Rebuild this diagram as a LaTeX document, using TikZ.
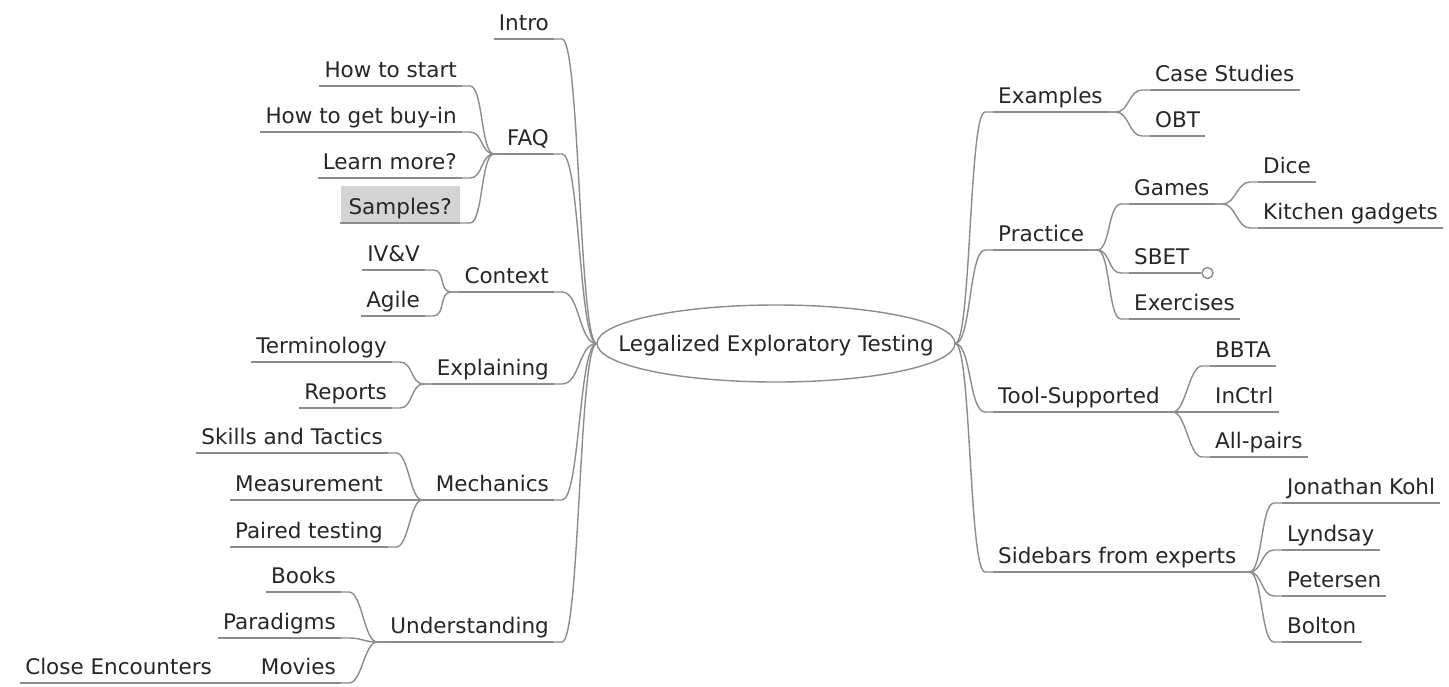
\documentclass[tikz,border=0pt]{standalone}
\usepackage{fontspec}
\setmainfont{DejaVu Sans}

\begin{document}
\begin{tikzpicture}[x=1pt,y=-1pt,font=\fontsize{21.5pt}{26pt}\selectfont]
  \tikzstyle{topic}=[inner xsep=5pt, inner ysep=4.5pt, text height=16pt, text depth=4pt, text=black!85]
  \tikzstyle{lft}=[topic, anchor=south east]
  \tikzstyle{rgt}=[topic, anchor=south west]
  \tikzstyle{hl}=[fill=black!17, text height=23.5pt, inner xsep=8pt]
  \tikzstyle{lnk}=[draw=black!45, line width=1.4pt]
  \tikzstyle{foldc}=[circle, draw=black!45, line width=1.4pt, fill=white, minimum size=11pt, inner sep=0pt]

  \useasboundingbox (0,0) rectangle (1449,686);

  % central topic
  \node[inner sep=0pt, minimum width=358pt, minimum height=77pt, text height=16pt, text depth=0pt, text=black!85] (root) at (776,343.5) {Legalized Exploratory Testing};
  \draw[lnk] (root.center) ellipse [x radius=179pt, y radius=38.5pt];

  % left branches
  \node[lft] (intro) at (554,39) {Intro};
  \node[lft] (faq) at (554,154) {FAQ};
  \node[lft] (howstart) at (462,86) {How to start};
  \node[lft] (buyin) at (462,132) {How to get buy-in};
  \node[lft] (learnmore) at (462,178) {Learn more?};
  \node[lft,hl] (samples) at (460,223) {Samples?};
  \node[lft] (context) at (554,292) {Context};
  \node[lft] (ivv) at (425,270) {IV\&V};
  \node[lft] (agile) at (425,316) {Agile};
  \node[lft] (explaining) at (554,384) {Explaining};
  \node[lft] (terminology) at (392,362) {Terminology};
  \node[lft] (reports) at (392,408) {Reports};
  \node[lft] (mechanics) at (554,500) {Mechanics};
  \node[lft] (skills) at (388,453) {Skills and Tactics};
  \node[lft] (measurement) at (388,500) {Measurement};
  \node[lft] (paired) at (388,547) {Paired testing};
  \node[lft] (understanding) at (554,642) {Understanding};
  \node[lft] (books) at (341,592) {Books};
  \node[lft] (paradigms) at (341,638) {Paradigms};
  \node[lft] (movies) at (341,683) {Movies};
  \node[lft] (closeenc) at (217,683) {Close Encounters};

  % right branches
  \node[rgt] (examples) at (993,112) {Examples};
  \node[rgt] (casestudies) at (1150,90) {Case Studies};
  \node[rgt] (obt) at (1150,136) {OBT};
  \node[rgt] (practice) at (993,250) {Practice};
  \node[rgt] (games) at (1129,204) {Games};
  \node[rgt] (dice) at (1258,182) {Dice};
  \node[rgt] (kitchen) at (1258,228) {Kitchen gadgets};
  \node[rgt] (sbet) at (1129,273) {SBET};
  \node[rgt] (exercises) at (1129,319) {Exercises};
  \node[rgt] (tool) at (993,412) {Tool-Supported};
  \node[rgt] (bbta) at (1210,366) {BBTA};
  \node[rgt] (inctrl) at (1210,412) {InCtrl};
  \node[rgt] (allpairs) at (1210,457) {All-pairs};
  \node[rgt] (sidebars) at (993,572) {Sidebars from experts};
  \node[rgt] (kohl) at (1282,503) {Jonathan Kohl};
  \node[rgt] (lyndsay) at (1282,550) {Lyndsay};
  \node[rgt] (petersen) at (1282,596) {Petersen};
  \node[rgt] (bolton) at (1282,642) {Bolton};
  \node[foldc] (sbetfold) at ([xshift=13pt]sbet.south east) {};

  % underlines
  \foreach \n in {intro,faq,howstart,buyin,learnmore,samples,context,ivv,agile,explaining,terminology,reports,mechanics,skills,measurement,paired,understanding,books,paradigms,movies,closeenc,examples,casestudies,obt,practice,games,dice,kitchen,sbet,exercises,tool,bbta,inctrl,allpairs,sidebars,kohl,lyndsay,petersen,bolton}
    \draw[lnk] (\n.south west) -- (\n.south east);

  % links
  \foreach \to in {intro,faq,context,explaining,mechanics,understanding}
    \draw[lnk] (root.west) .. controls +(-18pt,0) and +(18pt,0) .. ([xshift=8pt]\to.south east) -- (\to.south east);
  \foreach \to in {examples,practice,tool,sidebars}
    \draw[lnk] (root.east) .. controls +(16pt,0) and +(-16pt,0) .. ([xshift=-8pt]\to.south west) -- (\to.south west);
  \foreach \from/\to in {faq/howstart,faq/buyin,faq/learnmore,context/ivv,context/agile,explaining/terminology,explaining/reports,mechanics/skills,mechanics/measurement,mechanics/paired,understanding/books,understanding/paradigms,understanding/movies,movies/closeenc}
    \draw[lnk] (\from.south west) -- ++(-8pt,0) .. controls +(-13pt,0) and +(13pt,0) .. ([xshift=8pt]\to.south east) -- (\to.south east);
  \draw[lnk] (faq.south west) -- ++(-8pt,0) .. controls +(-13pt,0) and +(13pt,0) .. ([xshift=10pt]samples.south east) -- (samples.south east);
  \foreach \from/\to in {examples/casestudies,examples/obt,practice/games,practice/sbet,practice/exercises,games/dice,games/kitchen,tool/bbta,tool/inctrl,tool/allpairs,sidebars/kohl,sidebars/lyndsay,sidebars/petersen,sidebars/bolton}
    \draw[lnk] (\from.south east) -- ++(8pt,0) .. controls +(13pt,0) and +(-13pt,0) .. ([xshift=-8pt]\to.south west) -- (\to.south west);
  \draw[lnk] (sbet.south east) -- (sbetfold);
\end{tikzpicture}
\end{document}
